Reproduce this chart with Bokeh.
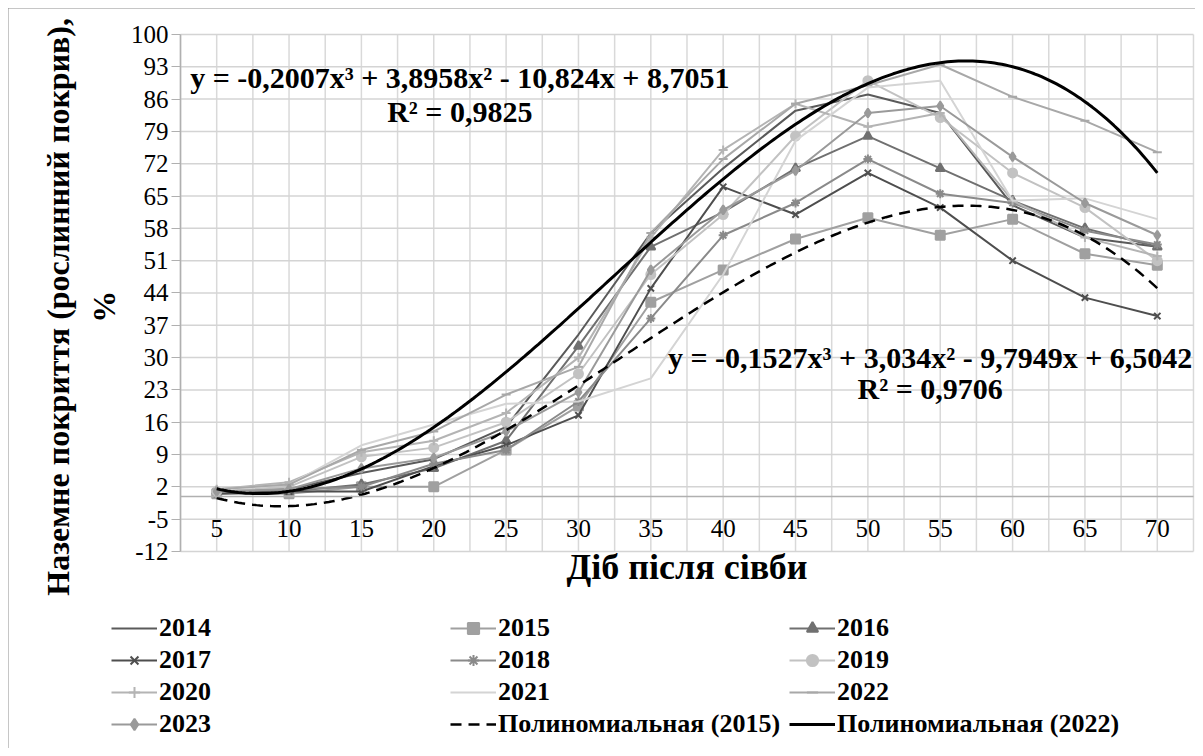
import numpy as np
from bokeh.plotting import figure
from bokeh.models import FixedTicker, Label, Legend, LegendItem, Range1d
from bokeh.core.properties import value
from bokeh.embed import file_html
from bokeh.resources import INLINE

# ---------------- data ----------------
days = [5, 10, 15, 20, 25, 30, 35, 40, 45, 50, 55, 60, 65, 70]
y2014 = [1.0, 1.5, 5.0, 8.0, 15.0, 35.0, 57.0, 71.0, 83.5, 87.0, 83.0, 63.0, 56.0, 54.0]
y2015 = [0.5, 0.5, 2.0, 2.0, 10.0, 19.5, 42.0, 49.0, 55.7, 60.3, 56.5, 60.0, 52.5, 50.0]
y2016 = [1.0, 1.0, 2.5, 6.0, 12.0, 32.5, 54.0, 61.5, 71.0, 78.0, 71.0, 64.0, 58.0, 54.0]
y2017 = [0.5, 1.0, 1.0, 6.5, 11.0, 17.5, 45.0, 67.0, 61.0, 70.0, 62.5, 51.0, 43.0, 39.0]
y2018 = [1.0, 1.5, 2.0, 7.0, 10.0, 20.5, 38.5, 56.5, 63.5, 73.0, 65.5, 63.5, 57.5, 54.5]
y2019 = [1.0, 2.0, 8.5, 10.5, 16.0, 26.5, 48.0, 61.0, 78.0, 90.0, 82.0, 70.0, 62.5, 51.0]
y2020 = [1.5, 3.0, 9.5, 12.0, 18.0, 30.0, 56.0, 75.0, 85.0, 80.0, 83.0, 64.0, 56.0, 52.0]
y2021 = [1.5, 2.5, 11.0, 15.5, 20.0, 20.5, 25.5, 48.0, 77.0, 88.5, 90.0, 64.0, 64.5, 60.0]
y2022 = [1.5, 2.5, 10.0, 14.0, 22.0, 28.0, 57.0, 73.0, 85.0, 89.0, 93.5, 86.5, 81.3, 74.5]
y2023 = [1.0, 1.5, 6.0, 8.3, 14.0, 22.5, 49.0, 62.0, 70.5, 83.0, 84.5, 73.5, 63.5, 56.5]

# trendline coefficients as printed on the chart (x = category index 1..14)
poly2015 = [-0.1527, 3.034, -9.7949, 6.5042]
poly2022 = [-0.2007, 3.8958, -10.824, 8.7051]
eq2015 = ["y = -0,1527x³ + 3,034x² - 9,7949x + 6,5042", "R² = 0,9706"]
eq2022 = ["y = -0,2007x³ + 3,8958x² - 10,824x + 8,7051", "R² = 0,9825"]

y_ticks = [-12, -5, 2, 9, 16, 23, 30, 37, 44, 51, 58, 65, 72, 79, 86, 93, 100]
x_grid = [2.5, 5, 7.5, 10, 12.5, 15, 17.5, 20, 22.5, 25, 27.5, 30, 32.5, 35, 37.5,
          40, 42.5, 45, 47.5, 50, 52.5, 55, 57.5, 60, 62.5, 65, 67.5, 70, 72.5]

x_title = "Діб після сівби"
y_title = ["Наземне покриття (рослинний покрив),", "%"]

series = [
    ("2014", y2014, "#5a5a5a", None),
    ("2015", y2015, "#a0a0a0", "square"),
    ("2016", y2016, "#707070", "triangle"),
    ("2017", y2017, "#4e4e4e", "x"),
    ("2018", y2018, "#8a8a8a", "asterisk"),
    ("2019", y2019, "#c2c2c2", "circle"),
    ("2020", y2020, "#b4b4b4", "cross"),
    ("2021", y2021, "#d4d4d4", None),
    ("2022", y2022, "#a8a8a8", "dash"),
    ("2023", y2023, "#9a9a9a", "diamond"),
]

FONT = "Liberation Serif"
X0, X1 = 2.5, 72.5      # plot-area extent (categories between tick marks)
Y0, Y1 = -12, 100
XLAB_Y = -7.1           # tick labels of the category axis sit just under y = 0

# the frame spans the whole canvas; the plot area is drawn inside it
p = figure(frame_width=1187, frame_height=740,
           x_range=Range1d(-9.387, 72.64), y_range=Range1d(-54.68, 105.63),
           output_backend="svg", toolbar_location=None,
           min_border_left=0, min_border_right=0, min_border_top=0,
           min_border_bottom=0)
p.styles = {"outline": "1px solid #8c8c8c", "outline-offset": "-1px",
            "margin": "8px 0 0 8px"}
p.outline_line_color = None
p.background_fill_color = "white"
p.border_fill_color = "white"
p.xgrid.visible = False
p.ygrid.visible = False

# gridlines of the plot area
p.segment(x0=x_grid, y0=[Y0] * len(x_grid), x1=x_grid, y1=[Y1] * len(x_grid),
          line_color="#d9d9d9", line_width=1.5)
p.segment(x0=[X0] * len(y_ticks), y0=y_ticks, x1=[X1] * len(y_ticks), y1=y_ticks,
          line_color="#d4d4d4", line_width=1.5)

# y axis at the left edge of the plot area
p.yaxis.fixed_location = X0
p.yaxis.bounds = (Y0, Y1)
p.yaxis.ticker = FixedTicker(ticks=y_ticks)
p.yaxis.axis_line_color = "#b0b0b0"
p.yaxis.axis_line_width = 1.5
p.yaxis.major_tick_line_color = "#b0b0b0"
p.yaxis.major_tick_out = 9
p.yaxis.major_tick_in = 0
p.yaxis.minor_tick_line_color = None
p.yaxis.major_label_text_color = None
p.yaxis.major_label_overrides = {t: "" for t in y_ticks}

# x axis crossing at y = 0
p.xaxis.fixed_location = 0
p.xaxis.bounds = (X0, X1)
p.xaxis.ticker = FixedTicker(ticks=days)
p.xaxis.axis_line_color = "#b0b0b0"
p.xaxis.axis_line_width = 1.5
p.xaxis.major_tick_line_color = None
p.xaxis.minor_tick_line_color = None
p.xaxis.major_label_text_color = None
p.xaxis.major_label_overrides = {d: "" for d in days}

# tick labels (serif, as in the original)
tick_style = dict(text_font=value(FONT), text_font_size="25px", text_color="black",
                  text_baseline="middle")
p.text(x=[X0] * len(y_ticks), y=y_ticks, text=[str(t) for t in y_ticks],
       x_offset=-12, text_align="right", **tick_style)
p.text(x=days, y=[XLAB_Y] * len(days), text=[str(d) for d in days],
       text_align="center", **tick_style)

items = []
for name, vals, col, mk in series:
    rs = [p.line(days, vals, line_color=col, line_width=2)]
    if mk is not None:
        rs.append(p.scatter(days, vals, marker=mk, size=9, line_color=col,
                            fill_color=col, line_width=2))
    items.append(LegendItem(label=name, renderers=rs))

xf = np.linspace(5, 70, 261)
tf = xf / 5.0
r15 = p.line(xf, np.polyval(poly2015, tf), line_color="black", line_width=2.5,
             line_dash="11 7")
r22 = p.line(xf, np.polyval(poly2022, tf), line_color="black", line_width=3)
items.append(LegendItem(label="Полиномиальная (2015)", renderers=[r15]))
items.append(LegendItem(label="Полиномиальная (2022)", renderers=[r22]))

eq_style = dict(text_font=FONT, text_font_size="30px", text_font_style="bold",
                text_color="black", text_align="center", text_baseline="middle")
p.add_layout(Label(x=21.8, y=90.6, text=eq2022[0], **eq_style))
p.add_layout(Label(x=21.8, y=83.3, text=eq2022[1], **eq_style))
p.add_layout(Label(x=54.3, y=30.0, text=eq2015[0], **eq_style))
p.add_layout(Label(x=54.3, y=23.4, text=eq2015[1], **eq_style))

title_style = dict(text_font=FONT, text_font_size="32px", text_font_style="bold",
                   text_color="black", text_align="center", text_baseline="middle")
p.add_layout(Label(x=37.5, y=-15.3, text=x_title, **dict(title_style, text_font_size="36px")))
p.add_layout(Label(x=-6.0, y=41.0, text=y_title[0], angle=np.pi / 2, **title_style))
p.add_layout(Label(x=-2.8, y=41.0, text=y_title[1], angle=np.pi / 2, **title_style))

legend = Legend(items=items, location=(103, 9), orientation="horizontal", ncols=3,
                label_text_font=FONT, label_text_font_size="26px",
                label_text_font_style="bold", label_text_color="black",
                glyph_width=46, glyph_height=28, label_height=28, label_width=289,
                label_standoff=2, spacing=2, padding=0, margin=0,
                border_line_color=None, background_fill_alpha=0)
p.add_layout(legend, "center")

open("out.html", "w").write(file_html(p, INLINE))
